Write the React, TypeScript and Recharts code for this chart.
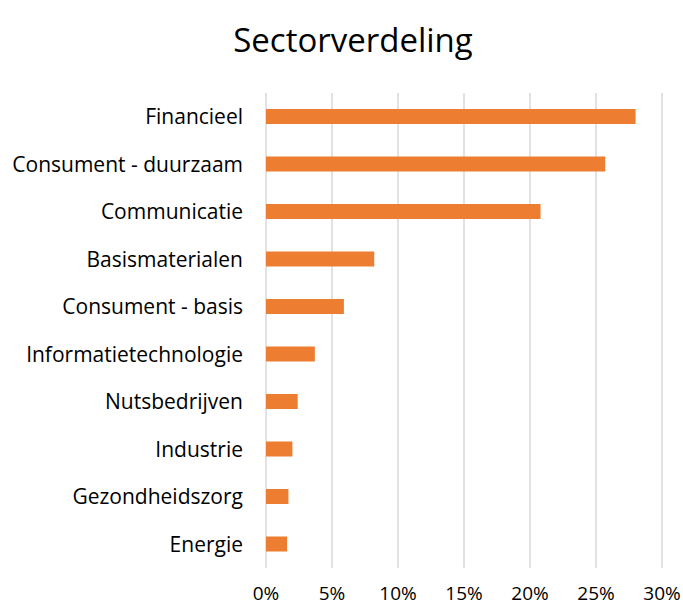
import { Bar, BarChart, CartesianGrid, XAxis, YAxis } from "recharts";

const sectors = [
  "Financieel",
  "Consument - duurzaam",
  "Communicatie",
  "Basismaterialen",
  "Consument - basis",
  "Informatietechnologie",
  "Nutsbedrijven",
  "Industrie",
  "Gezondheidszorg",
  "Energie",
];
const weights = [28.0, 25.7, 20.8, 8.2, 5.9, 3.7, 2.4, 2.0, 1.7, 1.6];
const xTicks = [0, 5, 10, 15, 20, 25, 30];

const data = sectors.map((name, i) => ({ name, value: weights[i] }));

const FONT = "'Open Sans', sans-serif";

export default function App() {
  return (
    <div
      style={{
        position: "absolute",
        left: 0,
        top: 0,
        width: 683,
        height: 607,
        background: "#fff",
        fontFamily: FONT,
      }}
    >
      <div
        style={{
          position: "absolute",
          top: 18,
          left: 0,
          width: 706,
          textAlign: "center",
          fontSize: 33,
          lineHeight: "44px",
          color: "#000",
        }}
      >
        Sectorverdeling
      </div>
      <BarChart
        width={683}
        height={607}
        data={data}
        layout="vertical"
        margin={{ top: 93, right: 21, bottom: 9, left: 0 }}
        barCategoryGap="34%"
      >
        <CartesianGrid horizontal={false} stroke="#d9d9d9" strokeWidth={1.5} />
        <XAxis
          type="number"
          domain={[0, 30]}
          ticks={xTicks}
          tickFormatter={(v) => `${v}%`}
          axisLine={false}
          tickLine={false}
          tickSize={0}
          tickMargin={19}
          height={30}
          interval={0}
          tick={{ fontSize: 19, fill: "#000", fontFamily: FONT }}
        />
        <YAxis
          type="category"
          dataKey="name"
          width={266}
          axisLine={false}
          tickLine={false}
          tickSize={0}
          tickMargin={23}
          interval={0}
          tick={{ fontSize: 21, fill: "#000", fontFamily: FONT }}
        />
        <Bar dataKey="value" fill="#ED7D31" barSize={15} isAnimationActive={false} />
      </BarChart>
    </div>
  );
}
